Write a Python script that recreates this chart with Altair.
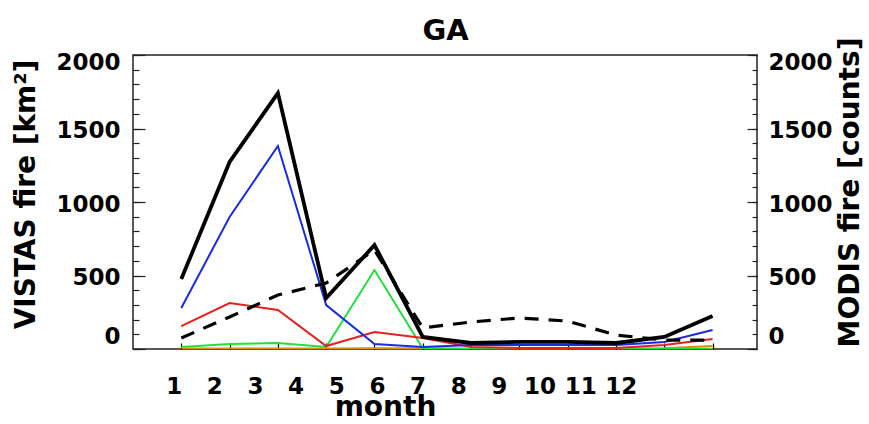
import altair as alt
import pandas as pd

# ---- data ----
months = list(range(1, 13))
vistas_total = [476, 1272, 1741, 347, 707, 82, 41, 48, 48, 41, 82, 224]   # black solid
vistas_blue = [279, 898, 1381, 299, 34, 14, 27, 27, 27, 27, 48, 129]
vistas_red = [156, 313, 265, 20, 116, 75, 14, 7, 7, 7, 27, 68]
vistas_green = [14, 34, 41, 14, 537, 3, 2, 2, 2, 2, 2, 2]
vistas_orange = [3, 3, 3, 3, 5, 5, 2, 2, 2, 2, 5, 20]
modis_counts = [75, 218, 367, 449, 673, 143, 184, 211, 190, 95, 61, 61]  # black dashed

y_major = [0, 500, 1000, 1500, 2000]
y_minor = list(range(0, 2001, 100))
month_labels = [str(m) for m in months]
chart_title = "GA"

FONT = "DejaVu Sans"
XD = [0, 12.92]
YD = [0, 2000]
XLD = [0, 15.35]

df = pd.DataFrame({
    "month": months,
    "total": vistas_total,
    "blue": vistas_blue,
    "red": vistas_red,
    "green": vistas_green,
    "orange": vistas_orange,
    "modis": modis_counts,
})
lab_df = pd.DataFrame({"month": months, "label": month_labels})

xs = alt.Scale(domain=XD, nice=False, zero=False)
ys = alt.Scale(domain=YD, nice=False, zero=False)

label_offset = {
    "condition": [
        {"test": "datum.value === 0", "value": -13},
        {"test": "datum.value === 2000", "value": 7},
    ],
    "value": 2,
}

x_tick_axis = alt.Axis(orient="bottom", values=months, offset=-6, tickSize=6,
                       tickColor="black", tickWidth=1.2, labels=False,
                       domain=False, grid=False, title=None)

x_top_title_axis = alt.Axis(orient="top", ticks=False, labels=False, domain=False,
                            grid=False, title=chart_title, titleFont=FONT,
                            titleFontSize=29, titleFontWeight="bold",
                            titleColor="black", titleX=312, titleY=-16,
                            titleAlign="center", titleBaseline="alphabetic")

left_major = alt.Axis(orient="left", values=y_major, offset=-12, tickSize=12,
                      tickColor="#222", tickWidth=1.2, domain=False, grid=False,
                      format="d", labelFont=FONT, labelFontSize=23,
                      labelFontWeight="bold", labelColor="black", labelPadding=13,
                      labelOffset=label_offset,
                      title="VISTAS fire [km²]", titleFont=FONT, titleFontSize=28,
                      titleFontWeight="bold", titleColor="black", titleAngle=270,
                      titleX=-119, titleY=139, titleAlign="center",
                      titleBaseline="middle")
left_minor = alt.Axis(orient="left", values=y_minor, offset=-6, tickSize=6,
                      tickColor="#222", tickWidth=1.2, labels=False, domain=False,
                      grid=False, title=None)
right_major = alt.Axis(orient="right", values=y_major, offset=-10, tickSize=10,
                       tickColor="#222", tickWidth=1.2, domain=False, grid=False,
                       format="d", labelFont=FONT, labelFontSize=23,
                       labelFontWeight="bold", labelColor="black", labelPadding=11,
                       labelOffset=label_offset,
                       title="MODIS fire [counts]", titleFont=FONT, titleFontSize=28,
                       titleFontWeight="bold", titleColor="black", titleAngle=270,
                       titleX=103, titleY=137, titleAlign="center",
                       titleBaseline="middle")
right_minor = alt.Axis(orient="right", values=y_minor, offset=-5, tickSize=5,
                       tickColor="#222", tickWidth=1.2, labels=False, domain=False,
                       grid=False, title=None)
x_label_axis = alt.Axis(orient="bottom", values=months, ticks=False, domain=False,
                        grid=False, format="d", labelFont=FONT, labelFontSize=23,
                        labelFontWeight="bold", labelColor="black", labelPadding=26,
                        labelFlush=False,
                        title="month", titleFont=FONT, titleFontSize=28,
                        titleFontWeight="bold", titleColor="black",
                        titleX=252, titleY=66, titleAlign="center",
                        titleBaseline="alphabetic")


def line(field, color, width, xaxis=None, yaxis=None, dash=None):
    kw = dict(color=color, strokeWidth=width, clip=True)
    if dash:
        kw["strokeDash"] = dash
    return alt.Chart(df).mark_line(**kw).encode(
        x=alt.X("month:Q", scale=xs, axis=xaxis),
        y=alt.Y(f"{field}:Q", scale=ys, axis=yaxis),
    )


l_orange = line("orange", "#e08a10", 2, xaxis=x_tick_axis, yaxis=left_major)
l_green = line("green", "#22e03a", 2, xaxis=x_top_title_axis, yaxis=left_minor)
l_red = line("red", "#e82020", 2)
l_blue = line("blue", "#1a2ae0", 2)
l_modis = line("modis", "black", 3.2, yaxis=right_major, dash=[14, 10])
l_total = line("total", "black", 3.8, yaxis=right_minor)

labels_layer = alt.Chart(lab_df).mark_point(opacity=0).encode(
    x=alt.X("month:Q", scale=alt.Scale(domain=XLD, nice=False, zero=False),
            axis=x_label_axis),
    y=alt.value(0),
)

chart = alt.layer(
    l_orange, l_green, l_red, l_blue, l_modis, l_total, labels_layer
).resolve_scale(
    x="independent", y="independent"
).properties(
    width=624,
    height=294,
    autosize=alt.AutoSizeParams(type="none"),
    padding={"left": 133, "top": 55, "right": 112, "bottom": 75},
    background="white",
).configure_view(
    stroke="#222", strokeWidth=1.5
)

chart.save("out.html", embed_options={"renderer": "svg", "actions": False})
